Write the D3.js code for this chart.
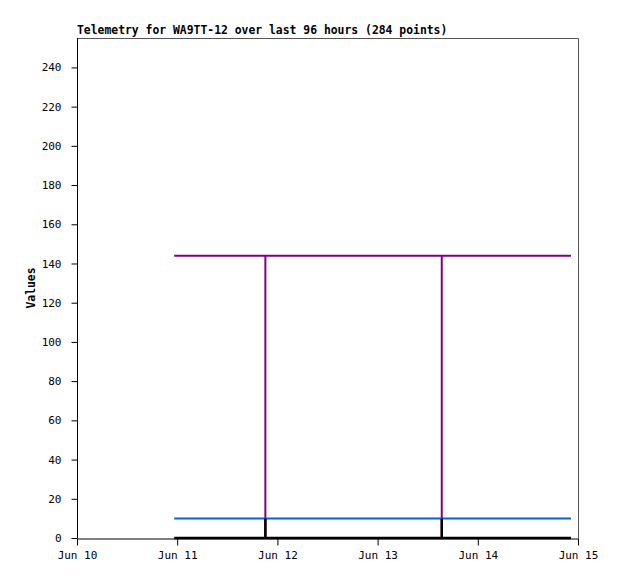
<!DOCTYPE html>
<html>
<head>
<meta charset="utf-8">
<script src="https://cdn.jsdelivr.net/npm/d3@7"></script>
<style>
  body { margin: 0; background: #fff; }
  text { font-family: "DejaVu Sans Mono", "Liberation Mono", monospace; }
</style>
</head>
<body>
<div class="chart"></div>
<script>
// series data: timestamps (local, 2024 June) and values
const times = ["2024-06-10T23:17", "2024-06-11T21:07", "2024-06-11T21:07", "2024-06-11T21:07",
               "2024-06-13T15:22", "2024-06-13T15:22", "2024-06-13T15:22", "2024-06-14T22:19"];
const purpleVals = [144, 144, 0, 144, 144, 0, 144, 144];
const blueVals   = [10, 10, 10, 10, 10, 10, 10, 10];
const blackVals  = [0, 0, 10, 0, 0, 10, 0, 0];
const yTicks = [0, 20, 40, 60, 80, 100, 120, 140, 160, 180, 200, 220, 240];
const xTicks = ["2024-06-10", "2024-06-11", "2024-06-12", "2024-06-13", "2024-06-14", "2024-06-15"];

const W = 618, H = 579;
const margin = {top: 38, right: 40, bottom: 41, left: 77},
    width = W - margin.left - margin.right,
    height = H - margin.top - margin.bottom;

const parse = d3.timeParse("%Y-%m-%dT%H:%M");
const parseDay = d3.timeParse("%Y-%m-%d");

const svg = d3.select(".chart")
  .append("svg")
    .attr("width", W)
    .attr("height", H)
  .append("g")
    .attr("transform", "translate(" + margin.left + "," + margin.top + ")");

const x = d3.scaleTime()
  .domain([parseDay(xTicks[0]), parseDay(xTicks[xTicks.length - 1])])
  .range([0, width]);

const y = d3.scaleLinear()
  .domain([0, 255])
  .range([height, 0]);

// frame (top + right)
svg.append("path")
  .attr("d", "M0.5,0.5H" + (width + 0.5) + "V" + height)
  .attr("fill", "none")
  .attr("stroke", "#555")
  .attr("stroke-width", 1);

// Y axis
const yAxis = svg.append("g")
  .attr("transform", "translate(0.5,0)")
  .call(d3.axisLeft(y).tickValues(yTicks).tickSize(6).tickPadding(10).tickSizeOuter(0));
yAxis.select(".domain").attr("d", "M0,0V" + height);

// X axis
const xAxis = svg.append("g")
  .attr("transform", "translate(0," + (height + 0.5) + ")")
  .call(d3.axisBottom(x).tickValues(xTicks.map(parseDay))
    .tickSize(7).tickPadding(6).tickSizeOuter(0));
xAxis.selectAll(".tick text").text(d => d3.timeFormat("%b ")(d) + d.getDate());

svg.selectAll(".tick text").style("font-size", "11px").attr("fill", "#000");

// lines
const line = vals => d3.line()
  .x((d, i) => x(parse(times[i])))
  .y(d => y(d))(vals);

svg.append("path").attr("d", line(purpleVals))
  .attr("fill", "none").attr("stroke", "#800080").attr("stroke-width", 2);
svg.append("path").attr("d", line(blueVals))
  .attr("fill", "none").attr("stroke", "#0066cc").attr("stroke-width", 2);
svg.append("path").attr("d", line(blackVals))
  .attr("fill", "none").attr("stroke", "#000").attr("stroke-width", 2.5);

// title
svg.append("text")
  .attr("x", 0)
  .attr("y", -4)
  .style("font-size", "11.4px")
  .style("font-weight", "bold")
  .text("Telemetry for WA9TT-12 over last 96 hours (284 points)");

// y label
svg.append("text")
  .attr("transform", "rotate(-90)")
  .attr("x", -height / 2)
  .attr("y", -42)
  .attr("text-anchor", "middle")
  .style("font-size", "11.4px")
  .style("font-weight", "bold")
  .text("Values");
</script>
</body>
</html>
